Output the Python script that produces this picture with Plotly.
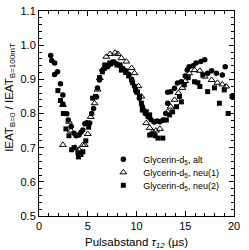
import plotly.graph_objects as go

# Glycerin-d5, alt (filled circles)
x_alt = [1.2, 1.3, 1.6, 1.6, 1.9, 2.2, 2.45, 2.45, 2.85, 3.0, 3.3, 3.6, 3.8, 4.1, 4.3, 4.5, 4.7, 4.9,
         5.2, 5.4, 5.6, 5.9, 6.0, 6.2, 6.5, 6.8, 7.1, 7.4, 7.7, 8.0, 8.3, 8.6, 8.9, 9.2, 9.5, 9.8,
         10.0, 10.3, 10.6, 10.9, 11.2, 11.5, 11.8, 12.1, 12.4, 12.7, 13.0, 13.2, 13.2, 13.5, 13.9,
         14.2, 14.6, 15.0, 15.2, 15.4, 15.8, 16.1, 16.6, 17.0, 17.3, 17.7, 18.2, 18.8, 19.1]
y_alt = [0.970, 0.955, 0.948, 0.914, 0.922, 0.887, 0.854, 0.828, 0.799, 0.781, 0.762, 0.742, 0.735,
         0.737, 0.745, 0.752, 0.770, 0.773, 0.772, 0.800, 0.815, 0.848, 0.875, 0.898, 0.925, 0.935,
         0.940, 0.945, 0.950, 0.945, 0.940, 0.932, 0.925, 0.915, 0.900, 0.880, 0.862, 0.845, 0.820,
         0.800, 0.790, 0.782, 0.775, 0.778, 0.776, 0.780, 0.800, 0.830, 0.862, 0.864, 0.874, 0.889,
         0.893, 0.910, 0.927, 0.937, 0.940, 0.948, 0.952, 0.957, 0.918, 0.925, 0.918, 0.913, 0.937]

# Glycerin-d5, neu(1) (open triangles)
x_neu1 = [2.45, 2.45, 3.07, 3.27, 3.7, 4.1, 4.5, 4.7, 5.0, 5.3, 5.7, 6.0, 6.25, 6.55, 6.9, 7.3, 7.8,
          8.1, 8.45, 8.96, 9.5, 9.8, 10.2, 10.5, 10.8, 11.0, 11.35, 11.7, 12.0, 12.4, 12.8, 13.2, 13.5,
          13.9, 14.3, 14.7, 15.0, 15.4, 15.95, 16.5, 17.0, 17.7, 18.3, 18.8, 19.2]
y_neu1 = [0.825, 0.708, 0.776, 0.750, 0.700, 0.694, 0.708, 0.708, 0.740, 0.790, 0.830, 0.870, 0.904,
          0.930, 0.966, 0.974, 0.978, 0.974, 0.962, 0.952, 0.933, 0.918, 0.880, 0.850, 0.810, 0.772,
          0.758, 0.746, 0.750, 0.755, 0.780, 0.805, 0.820, 0.840, 0.860, 0.875, 0.895, 0.918, 0.927,
          0.925, 0.908, 0.898, 0.890, 0.885, 0.879]

# Glycerin-d5, neu(2) (filled squares)
x_neu2 = [1.94, 2.2, 2.5, 2.76, 3.07, 3.35, 3.6, 4.0, 4.05, 4.3, 4.5, 4.8, 5.1, 5.5, 5.8, 6.2, 6.5,
          6.75, 7.0, 7.26, 7.6, 8.0, 8.3, 8.45, 8.9, 9.2, 9.5, 9.6, 9.9, 10.1, 10.3, 10.5, 10.6, 11.0,
          11.35, 11.35, 11.6, 11.9, 12.2, 12.7, 13.06, 13.4, 13.7, 14.1, 14.4, 14.6, 14.9, 15.3, 15.95,
          16.3, 16.5, 16.8, 17.3, 18.0, 18.5, 19.0, 19.4, 19.8]
y_neu2 = [0.867, 0.838, 0.800, 0.755, 0.735, 0.694, 0.700, 0.685, 0.673, 0.680, 0.688, 0.720, 0.760,
          0.845, 0.850, 0.905, 0.922, 0.942, 0.937, 0.948, 0.951, 0.942, 0.942, 0.927, 0.920, 0.910,
          0.898, 0.890, 0.870, 0.863, 0.849, 0.830, 0.810, 0.805, 0.796, 0.737, 0.740, 0.735, 0.728,
          0.728, 0.781, 0.796, 0.805, 0.820, 0.850, 0.834, 0.884, 0.905, 0.893, 0.890, 0.879, 0.913,
          0.864, 0.875, 0.830, 0.869, 0.800, 0.850]

x_tickvals = [0, 5, 10, 15, 20]
x_ticktext = ["0", "5", "10", "15", "20"]
y_tickvals = [0.5, 0.6, 0.7, 0.8, 0.9, 1.0, 1.1]
y_ticktext = ["0.5", "0.6", "0.7", "0.8", "0.9", "1.0", "1.1"]

names = ["Glycerin-d<sub>5</sub>, alt", "Glycerin-d<sub>5</sub>, neu(1)", "Glycerin-d<sub>5</sub>, neu(2)"]

fig = go.Figure()
fig.add_trace(go.Scatter(x=x_alt, y=y_alt, mode="markers", name=names[0], legend="legend",
                         marker=dict(symbol="circle", size=5.5, color="black")))
fig.add_trace(go.Scatter(x=x_neu1, y=y_neu1, mode="markers", name=names[1], legend="legend2",
                         marker=dict(symbol="triangle-up-open", size=6, color="black",
                                     line=dict(width=1, color="black"))))
fig.add_trace(go.Scatter(x=x_neu2, y=y_neu2, mode="markers", name=names[2], legend="legend3",
                         marker=dict(symbol="square", size=5, color="black")))

axis_common = dict(showline=True, linecolor="black", linewidth=1, mirror="ticks",
                   ticks="inside", ticklen=5, tickcolor="black", showgrid=False, zeroline=False,
                   automargin=False, ticklabelposition="outside", ticklabeloverflow="allow",
                   tickfont=dict(size=11, color="black"))

fig.update_xaxes(range=[0, 20], tickmode="array", tickvals=x_tickvals, ticktext=x_ticktext,
                 minor=dict(dtick=1, tick0=0, ticks="inside", ticklen=3, tickcolor="black"),
                 title=dict(text="Pulsabstand <i>τ<sub>12</sub></i> (µs)", font=dict(size=11.5, color="black")),
                 **axis_common)
fig.update_yaxes(range=[0.5, 1.1], tickmode="array", tickvals=y_tickvals, ticktext=y_ticktext,
                 minor=dict(dtick=0.02, tick0=0.5, ticks="inside", ticklen=3, tickcolor="black"),
                 **axis_common)

fig.add_annotation(text="IEAT<sub>B=0</sub> / IEAT<sub>B=100mT</sub>", textangle=-90,
                   xref="paper", yref="paper", x=-0.15, y=0.58, xanchor="center", yanchor="middle",
                   showarrow=False, font=dict(size=11.5, color="black"))

leg_font = dict(size=9, family="Liberation Sans Narrow, Arial Narrow, Liberation Sans, sans-serif",
                color="black")
leg_common = dict(x=0.33, xanchor="left", yanchor="middle", bgcolor="rgba(0,0,0,0)",
                  font=leg_font, itemwidth=30)

fig.update_layout(
    width=249, height=250,
    margin=dict(l=39, r=15, t=11, b=34),
    paper_bgcolor="white", plot_bgcolor="white",
    font=dict(family="Liberation Sans, Arial, sans-serif", color="black"),
    showlegend=True,
    legend=dict(y=0.277, **leg_common),
    legend2=dict(y=0.213, **leg_common),
    legend3=dict(y=0.15, **leg_common),
)

fig.write_html("out.html", config={"displayModeBar": False},
               post_script="document.body.style.margin='0';document.documentElement.style.overflow='hidden';")
